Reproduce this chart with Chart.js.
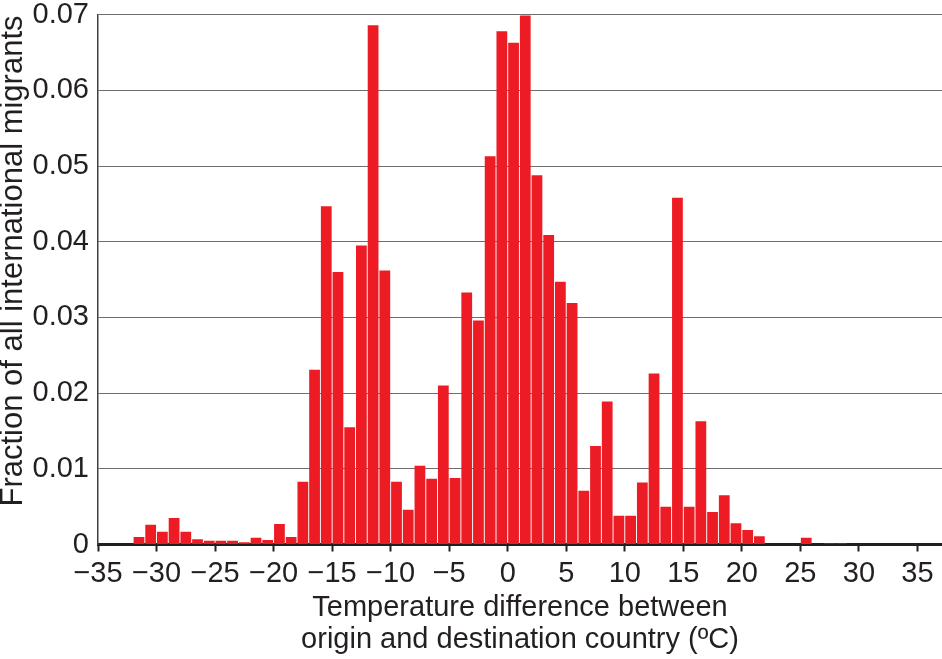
<!DOCTYPE html>
<html>
<head>
<meta charset="utf-8">
<title>Temperature difference of international migrants</title>
<script src="https://cdn.jsdelivr.net/npm/chart.js@4.4.0/dist/chart.umd.min.js"></script>
<style>
  html, body { margin: 0; padding: 0; background: #fff; }
  #chart { display: block; }
</style>
</head>
<body>
<canvas id="chart" width="942" height="659"></canvas>
<script>
  // lower edge of each 1 ºC bin, and the fraction of migrants in it
  const binStarts = [-32, -31, -30, -29, -28, -27, -26, -25, -24, -23, -22, -21,
    -20, -19, -18, -17, -16, -15, -14, -13, -12, -11, -10, -9, -8, -7, -6, -5,
    -4, -3, -2, -1, 0, 1, 2, 3, 4, 5, 6, 7, 8, 9, 10, 11, 12, 13, 14, 15, 16,
    17, 18, 19, 20, 21, 22, 23, 24, 25, 26, 27, 28];
  const fractions = [0.0010, 0.0026, 0.0017, 0.0035, 0.0017, 0.0007, 0.0005, 0.0005,
    0.0005, 0.0003, 0.0009, 0.0006, 0.0027, 0.0010, 0.0083, 0.0231, 0.0447, 0.0360,
    0.0155, 0.0395, 0.0686, 0.0362, 0.0083, 0.0046, 0.0104, 0.0087, 0.0210, 0.0088,
    0.0333, 0.0296, 0.0513, 0.0678, 0.0663, 0.0699, 0.0488, 0.0409, 0.0347, 0.0319,
    0.0071, 0.0130, 0.0189, 0.0038, 0.0038, 0.0082, 0.0226, 0.0050, 0.0458, 0.0050,
    0.0163, 0.0043, 0.0065, 0.0028, 0.0019, 0.0011, 0, 0, 0, 0.0009, 0, 0.00013, 0.00013];

  const xTickValues = [-35, -30, -25, -20, -15, -10, -5, 0, 5, 10, 15, 20, 25, 30, 35];
  const yTickValues = [0, 0.01, 0.02, 0.03, 0.04, 0.05, 0.06, 0.07];

  const xTitle = ['Temperature difference between', 'origin and destination country (ºC)'];
  const yTitle = 'Fraction of all international migrants';

  const textColor = '#231f20';
  const fontFamily = '"Liberation Sans", Arial, Helvetica, sans-serif';
  Chart.defaults.font.family = fontFamily;
  Chart.defaults.color = textColor;

  // y title sits a bit above the middle of the plot, so draw it by hand
  const yTitlePlugin = {
    id: 'yTitle',
    afterDraw(chart) {
      const c = chart.ctx;
      c.save();
      c.translate(13, 261);
      c.rotate(-Math.PI / 2);
      c.font = '31px ' + fontFamily;
      c.fillStyle = textColor;
      c.textAlign = 'center';
      c.textBaseline = 'middle';
      c.fillText(yTitle, 0, 0);
      c.restore();
    }
  };

  const ctx = document.getElementById('chart');

  const histogram = new Chart(ctx, {
    type: 'bar',
    data: {
      datasets: [{
        data: binStarts.map((b, i) => ({ x: b + 0.5, y: fractions[i] })),
        backgroundColor: '#ed1c24',
        borderWidth: 0,
        barPercentage: 0.92,
        categoryPercentage: 1.0
      }]
    },
    options: {
      responsive: false,
      animation: false,
      layout: { padding: { top: 14.7, right: 0, bottom: 0, left: 0 } },
      plugins: {
        legend: { display: false },
        tooltip: { enabled: false }
      },
      scales: {
        x: {
          type: 'linear',
          min: -35,
          max: 37.1,
          offset: false,
          afterBuildTicks: s => { s.ticks = xTickValues.map(v => ({ value: v })); },
          afterFit: s => { s.height = 114.5; s.paddingLeft = 0; s.paddingRight = 0; },
          grid: {
            display: true,
            drawOnChartArea: false,
            drawTicks: true,
            tickLength: 7,
            tickColor: textColor,
            tickWidth: 2,
            offset: false
          },
          border: { display: true, color: textColor, width: 3 },
          ticks: {
            padding: 8,
            autoSkip: false,
            maxRotation: 0,
            font: { size: 29, lineHeight: 1 },
            callback: v => (v < 0 ? '\u2212' + Math.abs(v) : String(v))
          },
          title: {
            display: true,
            text: xTitle,
            font: { size: 29, lineHeight: 1.12 },
            padding: { top: 0, bottom: 2.4 }
          }
        },
        y: {
          min: 0,
          max: 0.07,
          afterBuildTicks: s => { s.ticks = yTickValues.map(v => ({ value: v })); },
          afterFit: s => { s.width = 98; s.paddingTop = 0; s.paddingBottom = 0; },
          grid: { color: '#6d6e71', lineWidth: 1, drawTicks: false },
          border: { display: true, color: '#414042', width: 1.5 },
          ticks: {
            padding: 9,
            font: { size: 29, lineHeight: 1 },
            callback: v => (v === 0 ? '0' : v.toFixed(2))
          }
        }
      }
    },
    plugins: [yTitlePlugin]
  });
</script>
</body>
</html>
